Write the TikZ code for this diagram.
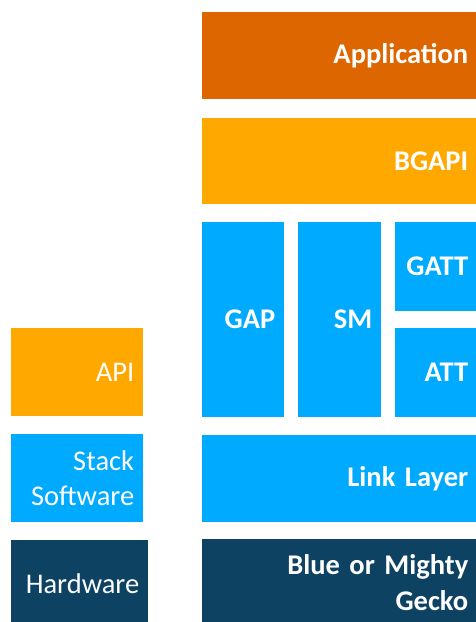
\documentclass[tikz,border=0pt]{standalone}
\usepackage{fontspec}
\setmainfont{Carlito}
\definecolor{appc}{RGB}{222,102,0}
\definecolor{apic}{RGB}{255,168,0}
\definecolor{bluec}{RGB}{0,170,255}
\definecolor{navyc}{RGB}{13,66,99}
\tikzset{
  blk/.style={rectangle, anchor=north west, inner xsep=9pt, inner ysep=0pt,
    text=white, align=right, font=\fontsize{28.5}{35.5}\selectfont},
  bblk/.style={blk, font=\bfseries\fontsize{28.5}{35.5}\selectfont}
}
\begin{document}
\begin{tikzpicture}[x=1pt,y=-1pt]
\useasboundingbox (0,0) rectangle (475,622);
% right stack
\node[bblk, fill=appc,  text width=257, minimum height=87] (app) at (202,12) {Application};
\node[bblk, fill=apic,  text width=257, minimum height=86] (bgapi) at (202,118) {BGAPI};
\node[bblk, fill=bluec, text width=64,  minimum height=195] (gap) at (202,222) {GAP};
\node[bblk, fill=bluec, text width=65,  minimum height=195] (sm) at (298,222) {SM};
\node[bblk, fill=bluec, text width=64,  minimum height=89] (gatt) at (395,222) {GATT};
\node[bblk, fill=bluec, text width=64,  minimum height=89] (att) at (395,328) {ATT};
\node[bblk, fill=bluec, text width=257, minimum height=87] (ll) at (202,435) {Link Layer};
\node[bblk, fill=navyc, text width=257, minimum height=87] (gecko) at (202,539) {Blue or Mighty\\Gecko};
% left legend
\node[blk, fill=apic,  text width=114, minimum height=88] (api) at (11,328) {API};
\node[blk, fill=bluec, text width=114, minimum height=88] (stack) at (11,434) {Stack\\Software};
\node[blk, fill=navyc, text width=119, minimum height=87] (hw) at (11,540) {Hardware};
\end{tikzpicture}
\end{document}
